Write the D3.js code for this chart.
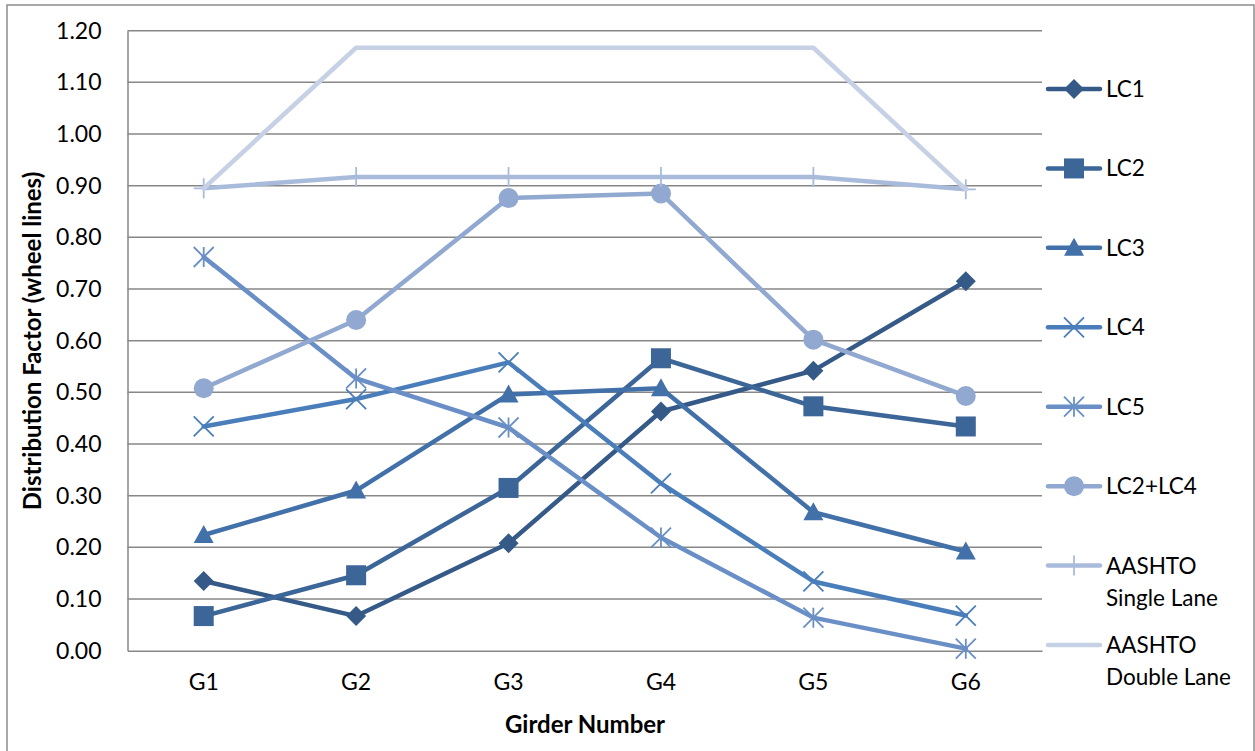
<!DOCTYPE html>
<html><head><meta charset="utf-8">
<script src="https://cdn.jsdelivr.net/npm/d3@7"></script>
<style>html,body{margin:0;padding:0;background:#fff;}svg{display:block;font-family:Lato,"Open Sans",sans-serif;}</style>
</head><body>
<svg id="c" width="1255" height="751"></svg>
<script>
const categories = ["G1","G2","G3","G4","G5","G6"];
const yTicks = [0,0.1,0.2,0.3,0.4,0.5,0.6,0.7,0.8,0.9,1.0,1.1,1.2];
const LC1 = [0.135,0.067,0.208,0.463,0.542,0.715];
const LC2 = [0.067,0.146,0.315,0.566,0.473,0.434];
const LC3 = [0.224,0.310,0.496,0.508,0.268,0.192];
const LC4 = [0.434,0.487,0.558,0.324,0.134,0.068];
const LC5 = [0.762,0.527,0.432,0.219,0.064,0.004];
const LC2LC4 = [0.508,0.640,0.876,0.885,0.602,0.493];
const AASHTO_single = [0.895,0.917,0.917,0.917,0.917,0.893];
const AASHTO_double = [0.895,1.167,1.167,1.167,1.167,0.893];
const seriesNames = ["LC1","LC2","LC3","LC4","LC5","LC2+LC4","AASHTO Single Lane","AASHTO Double Lane"];

const series = [
  {name:"LC1", lines:["LC1"], values:LC1, color:"#355a87", marker:"diamond"},
  {name:"LC2", lines:["LC2"], values:LC2, color:"#3c6598", marker:"square"},
  {name:"LC3", lines:["LC3"], values:LC3, color:"#4270a8", marker:"triangle"},
  {name:"LC4", lines:["LC4"], values:LC4, color:"#4a7ebb", marker:"x"},
  {name:"LC5", lines:["LC5"], values:LC5, color:"#6a8fc6", marker:"star"},
  {name:"LC2+LC4", lines:["LC2+LC4"], values:LC2LC4, color:"#91a8d0", marker:"circle"},
  {name:"AASHTO Single Lane", lines:["AASHTO","Single Lane"], values:AASHTO_single, color:"#a9bbdb", marker:"plus"},
  {name:"AASHTO Double Lane", lines:["AASHTO","Double Lane"], values:AASHTO_double, color:"#c6d1e6", marker:"none"}
];

const svg = d3.select("#c");
const m = {left:127.5, right:1042, top:30.7, bottom:650.7};
const x = d3.scaleBand().domain(categories).range([m.left,m.right]);
const y = d3.scaleLinear().domain([0,1.2]).range([m.bottom,m.top]);
const cx = c => x(c) + x.bandwidth()/2;

// outer border
svg.append("rect").attr("x",7).attr("y",5).attr("width",1247).attr("height",800)
  .attr("fill","none").attr("stroke","#8c8c8c").attr("stroke-width",1.5);

// gridlines
svg.append("g").selectAll("line").data(yTicks.filter(d=>d>0)).join("line")
  .attr("x1",m.left).attr("x2",m.right).attr("y1",d=>y(d)).attr("y2",d=>y(d))
  .attr("stroke","#878787").attr("stroke-width",1.5);

// y axis
const yAxis = d3.axisLeft(y).tickValues(yTicks).tickFormat(d3.format(".2f")).tickSize(0).tickPadding(26);
const ya = svg.append("g").attr("transform",`translate(${m.left},0)`).call(yAxis);
ya.select(".domain").attr("stroke","#878787").attr("stroke-width",1.5);
ya.selectAll("text").attr("font-size",23).attr("fill","#000").attr("font-family","Lato,sans-serif");

// x axis
const xAxis = d3.axisBottom(x).tickSize(0).tickPadding(23);
const xa = svg.append("g").attr("transform",`translate(0,${m.bottom})`).call(xAxis);
xa.select(".domain").attr("stroke","#878787").attr("stroke-width",1.5);
xa.selectAll("text").attr("font-size",23).attr("fill","#000").attr("font-family","Lato,sans-serif");

// titles
svg.append("text").attr("x",585).attr("y",733).attr("text-anchor","middle")
  .attr("font-size",24).attr("font-weight","bold").text("Girder Number");
svg.append("text").attr("transform","translate(41,341) rotate(-90)").attr("text-anchor","middle")
  .attr("font-size",24).attr("font-weight","bold").text("Distribution Factor (wheel lines)");

function drawMarker(g, type, color, px, py){
  const s = 10;
  if(type==="diamond"){
    g.append("path").attr("d",`M${px},${py-s}L${px+s},${py}L${px},${py+s}L${px-s},${py}Z`).attr("fill",color);
  } else if(type==="square"){
    g.append("rect").attr("x",px-s).attr("y",py-s).attr("width",2*s).attr("height",2*s).attr("fill",color);
  } else if(type==="triangle"){
    g.append("path").attr("d",`M${px},${py-s}L${px+s},${py+8}L${px-s},${py+8}Z`).attr("fill",color);
  } else if(type==="circle"){
    g.append("circle").attr("cx",px).attr("cy",py).attr("r",s).attr("fill",color);
  } else if(type==="x"){
    g.append("path").attr("d",`M${px-s},${py-s}L${px+s},${py+s}M${px+s},${py-s}L${px-s},${py+s}`)
      .attr("stroke",color).attr("stroke-width",1.8).attr("fill","none");
  } else if(type==="star"){
    g.append("path").attr("d",`M${px-s},${py-s}L${px+s},${py+s}M${px+s},${py-s}L${px-s},${py+s}M${px},${py-s}L${px},${py+s}`)
      .attr("stroke",color).attr("stroke-width",1.8).attr("fill","none");
  } else if(type==="plus"){
    g.append("path").attr("d",`M${px},${py-s}L${px},${py+s}M${px-s},${py}L${px+s},${py}`)
      .attr("stroke",color).attr("stroke-width",1.8).attr("fill","none");
  }
}

const line = d3.line().x((d,i)=>cx(categories[i])).y(d=>y(d));
series.forEach(s=>{
  const g = svg.append("g");
  g.append("path").datum(s.values).attr("d",line).attr("fill","none")
    .attr("stroke",s.color).attr("stroke-width",4.5).attr("stroke-linejoin","round").attr("stroke-linecap","round");
  s.values.forEach((v,i)=>drawMarker(g,s.marker,s.color,cx(categories[i]),y(v)));
});

// legend
const legY = d3.scalePoint().domain(seriesNames).range([89,645]);
series.forEach(s=>{
  const ly = legY(s.name);
  const g = svg.append("g");
  g.append("line").attr("x1",1048).attr("x2",1100).attr("y1",ly).attr("y2",ly)
    .attr("stroke",s.color).attr("stroke-width",4.5).attr("stroke-linecap","round");
  drawMarker(g,s.marker,s.color,1074,ly);
  const t = g.append("text").attr("x",1106).attr("y",ly+8).attr("font-size",22.5).attr("fill","#000");
  s.lines.forEach((l,i)=>t.append("tspan").attr("x",1106).attr("dy",i===0?0:32).text(l));
});
</script>
</body></html>
